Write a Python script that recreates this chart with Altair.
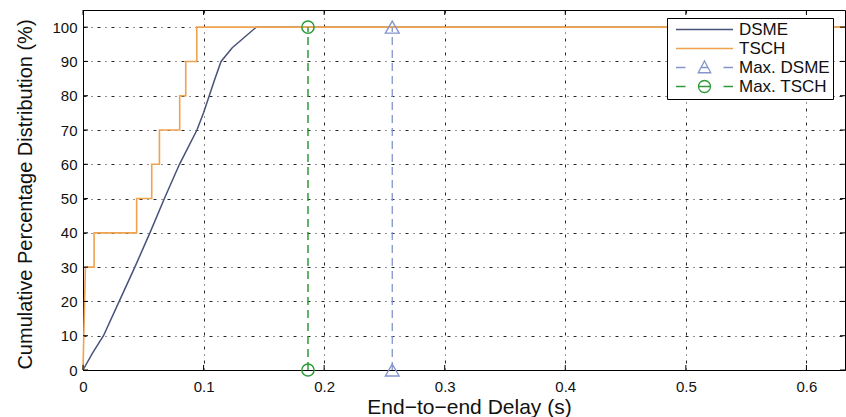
import altair as alt
import pandas as pd

# ---------------- data ----------------
dsme_x = [0.0, 0.008, 0.017, 0.030, 0.043, 0.0555, 0.0675, 0.080, 0.0945, 0.100, 0.109, 0.1145, 0.1238, 0.1437, 0.632]
dsme_y = [0, 5, 10, 20, 30, 40, 50, 60, 70, 75, 84.5, 90, 94, 100, 100]

tsch_x = [0.0, 0.002, 0.0092, 0.0092, 0.0445, 0.0445, 0.0570, 0.0570, 0.0634, 0.0634,
          0.0802, 0.0802, 0.0852, 0.0852, 0.0944, 0.0944, 0.632]
tsch_y = [0, 30, 30, 40, 40, 50, 50, 60, 60, 70,
          70, 80, 80, 90, 90, 100, 100]

max_dsme_x = [0.2565, 0.2565]
max_tsch_x = [0.1866, 0.1866]
max_y = [0, 100]

series = ["DSME", "TSCH", "Max. DSME", "Max. TSCH"]
colors = ["#48527a", "#f0a24e", "#8595cc", "#2e9b38"]

x_ticks = [0, 0.1, 0.2, 0.3, 0.4, 0.5, 0.6]
y_ticks = [0, 10, 20, 30, 40, 50, 60, 70, 80, 90, 100]

X_MAX = 0.632
Y_MAX = 105
FONT = "Liberation Sans"

# ---------------- scales / axes ----------------
xs = alt.Scale(domain=[0, X_MAX], nice=False, zero=False)
ys = alt.Scale(domain=[0, Y_MAX], nice=False, zero=False)

x_axis = alt.Axis(
    title="End\u2212to\u2212end Delay (s)", values=x_ticks, format="~g",
    grid=True, gridColor="black", gridDash=[3, 5, 1, 5], gridWidth=1, gridOpacity=0.85,
    ticks=False, domainColor="black", labelColor="#111", labelFont=FONT, labelFontSize=15,
    labelPadding=9, titleFont=FONT, titleFontSize=21, titleFontWeight="normal",
    titleColor="#111", titlePadding=2, titleX=386, labelFlush=False,
)
y_axis = alt.Axis(
    title="Cumulative Percentage Distribution (%)", values=y_ticks,
    grid=True, gridColor="black", gridDash=[3, 5, 1, 5], gridWidth=1, gridOpacity=0.85,
    ticks=False, domainColor="black", labelColor="#111", labelFont=FONT, labelFontSize=15,
    labelPadding=6, titleFont=FONT, titleFontSize=20, titleFontWeight="normal",
    titleColor="#111", titlePadding=16, titleY=184, labelFlush=False,
)

def X(field="x"):
    return alt.X(f"{field}:Q", scale=xs, axis=x_axis)

def Y(field="y"):
    return alt.Y(f"{field}:Q", scale=ys, axis=y_axis)

# ---------------- layers ----------------
dsme_df = pd.DataFrame({"x": dsme_x, "y": dsme_y, "o": range(len(dsme_x))})
tsch_df = pd.DataFrame({"x": tsch_x, "y": tsch_y, "o": range(len(tsch_x))})

dsme = alt.Chart(dsme_df).mark_line(color=colors[0], strokeWidth=1.5).encode(
    x=X(), y=Y(), order="o:Q")
tsch = alt.Chart(tsch_df).mark_line(color=colors[1], strokeWidth=1.6).encode(
    x=X(), y=Y(), order="o:Q")

mdsme_df = pd.DataFrame({"x": max_dsme_x, "y": max_y})
mtsch_df = pd.DataFrame({"x": max_tsch_x, "y": max_y})

mdsme_line = alt.Chart(mdsme_df).mark_line(color=colors[2], strokeWidth=1.3, strokeDash=[8, 5]).encode(x=X(), y=Y())
mtsch_line = alt.Chart(mtsch_df).mark_line(color=colors[3], strokeWidth=1.5, strokeDash=[8, 5]).encode(x=X(), y=Y())
mdsme_pts = alt.Chart(mdsme_df).mark_point(shape="triangle-up", filled=False, size=190,
                                           color=colors[2], strokeWidth=1.4, opacity=1).encode(x=X(), y=Y())
mtsch_pts = alt.Chart(mtsch_df).mark_point(shape="circle", filled=False, size=150,
                                           color=colors[3], strokeWidth=1.5, opacity=1).encode(x=X(), y=Y())

# inward ticks on all four sides
TX = 0.00415   # tick length in x data units (~5 px)
TY = 1.46      # tick length in y data units (~5 px)
xt = pd.DataFrame({"x": x_ticks})
yt = pd.DataFrame({"y": y_ticks})
tick_bottom = alt.Chart(xt).mark_rule(color="black").encode(
    x=X(), y=alt.datum(0, scale=ys, axis=y_axis), y2=alt.datum(TY))
tick_top = alt.Chart(xt).mark_rule(color="black").encode(
    x=X(), y=alt.datum(Y_MAX, scale=ys, axis=y_axis), y2=alt.datum(Y_MAX - TY))
tick_left = alt.Chart(yt).mark_rule(color="black").encode(
    y=Y(), x=alt.datum(0, scale=xs, axis=x_axis), x2=alt.datum(TX))
tick_right = alt.Chart(yt).mark_rule(color="black").encode(
    y=Y(), x=alt.datum(X_MAX, scale=xs, axis=x_axis), x2=alt.datum(X_MAX - TX))

# legend (custom symbols: line / dashed line with marker); unit = 5 px
L = 5.7
solid = f"M-{L},0L{L},0"
tri = (f"M-{L},0L-3.8,0M3.8,0L{L},0"
       "M0,-1.3L1.25,1.05L-1.25,1.05Z M-0.62,0L0.62,0")
circ = (f"M-{L},0L-3.8,0M3.8,0L{L},0"
        "M1.2,0A1.2,1.2 0 1,1 -1.2,0A1.2,1.2 0 1,1 1.2,0 M-1.2,0L1.2,0")
paths = [solid, solid, tri, circ]

leg = alt.Legend(
    title=None, orient="none", legendX=584, legendY=8,
    labelFont=FONT, labelFontSize=17, labelColor="#111",
    symbolSize=100, symbolStrokeWidth=1.3, symbolOpacity=1, symbolOffset=26,
    strokeColor="black", fillColor="white", padding=3, labelOffset=26,
    rowPadding=1, cornerRadius=0,
)
leg_df = pd.DataFrame({"series": series, "x": [0] * 4, "y": [0] * 4})
legend_layer = alt.Chart(leg_df).mark_point(filled=False, opacity=0).encode(
    x=X(), y=Y(),
    color=alt.Color("series:N", scale=alt.Scale(domain=series, range=colors), legend=leg, sort=series),
    shape=alt.Shape("series:N", scale=alt.Scale(domain=series, range=paths), legend=leg, sort=series),
)

chart = alt.layer(
    dsme, tsch, mdsme_line, mtsch_line, mdsme_pts, mtsch_pts,
    tick_bottom, tick_top, tick_left, tick_right, legend_layer,
).properties(
    width=762, height=360,
    autosize=alt.AutoSizeParams(type="none"),
    padding={"left": 83, "top": 10, "right": 1, "bottom": 47},
    background="white",
).configure_view(stroke="black", strokeWidth=1)

chart.save("out.html", embed_options={"renderer": "svg", "actions": False})
